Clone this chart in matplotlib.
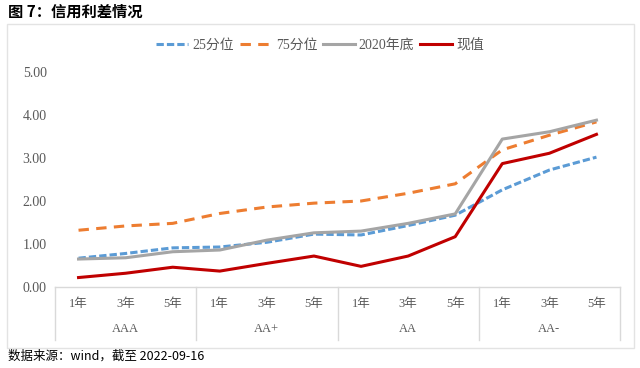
import matplotlib
matplotlib.use("agg")
import matplotlib.pyplot as plt
from matplotlib.patches import Rectangle

plt.rcParams['font.family'] = ['Noto Sans CJK SC', 'DejaVu Sans']

groups = ["AAA", "AA+", "AA", "AA-"]
terms = ["1年", "3年", "5年"]

p25 = [0.67, 0.78, 0.91, 0.93, 1.04, 1.23, 1.21, 1.43, 1.67, 2.26, 2.72, 3.02]
p75 = [1.32, 1.42, 1.48, 1.71, 1.86, 1.95, 2.00, 2.18, 2.40, 3.19, 3.53, 3.84]
end2020 = [0.65, 0.68, 0.82, 0.86, 1.09, 1.26, 1.30, 1.48, 1.70, 3.44, 3.61, 3.88]
current = [0.22, 0.32, 0.46, 0.37, 0.55, 0.72, 0.48, 0.72, 1.17, 2.87, 3.11, 3.55]

yticks = [0, 1, 2, 3, 4, 5]

txt = "#595959"
grid = "#D9D9D9"
num_font = ['Liberation Serif', 'Noto Sans CJK SC']

fig = plt.figure(figsize=(6.4, 3.68), dpi=100)
ax = fig.add_axes([55 / 640, 1 - 287 / 368, 565 / 640, 215 / 368])

x = list(range(len(p25)))
ax.plot(x, p25, color="#5B9BD5", lw=2.2, dashes=(2.4, 1.0), label="25分位")
ax.plot(x, p75, color="#ED7D31", lw=2.2, dashes=(3.4, 2.4), label="75分位")
ax.plot(x, end2020, color="#A5A5A5", lw=2.2, label="2020年底")
ax.plot(x, current, color="#C00000", lw=2.2, label="现值")

ax.set_xlim(-0.5, 11.5)
ax.set_ylim(0, 5)
ax.set_yticks(yticks)
ax.set_yticklabels([f"{v:.2f}" for v in yticks], color=txt, fontsize=10, family=num_font)
ax.tick_params(axis="y", length=0, pad=6)
ax.set_xticks([])
for s in ["top", "right", "left"]:
    ax.spines[s].set_visible(False)
ax.spines["bottom"].set_color(grid)
ax.spines["bottom"].set_linewidth(1.0)

# category box below the axis
trans = ax.get_xaxis_transform()
box_bottom = -53 / 215
for xb in [-0.5, 2.5, 5.5, 8.5, 11.5]:
    ax.plot([xb, xb], [0, box_bottom], transform=trans, color=grid, lw=1.0, clip_on=False)
for i in x:
    ax.text(i, -17 / 215, terms[i % 3], transform=trans, ha="center", va="center",
            color=txt, fontsize=9, family=num_font)
for g, name in enumerate(groups):
    ax.text(g * 3 + 1, -42 / 215, name, transform=trans, ha="center", va="center",
            color=txt, fontsize=9, family=num_font)

fig.legend(loc="center", bbox_to_anchor=(0.5, 1 - 45 / 368), ncol=4, frameon=False,
           handlelength=2.3, columnspacing=0.4, handletextpad=0.3,
           prop={"family": num_font, "size": 10}, labelcolor=txt)

# chart border
fig.patches.append(Rectangle((7 / 640, 1 - 348 / 368), 627 / 640, 324 / 368,
                             transform=fig.transFigure, fill=False, edgecolor="#E3E3E3", lw=1.0))

fig.text(8 / 640, 1 - 12 / 368, "图 7：信用利差情况", ha="left", va="center",
         fontsize=11, fontweight="bold", color="black")
fig.text(8 / 640, 1 - 356 / 368, "数据来源：wind，截至 2022-09-16", ha="left", va="center",
         fontsize=9, color="black")

plt.savefig("out.png", dpi=100)
